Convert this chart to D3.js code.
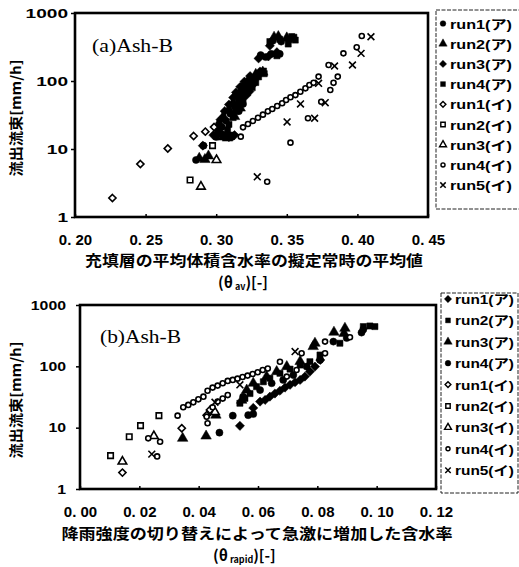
<!DOCTYPE html>
<html>
<head>
<meta charset="utf-8"/>
<script src="https://cdn.jsdelivr.net/npm/d3@7"></script>
<style>
  body { margin: 0; background: #fff; }
  svg text { fill: #000; }
</style>
</head>
<body>
<svg id="chart" width="519" height="567"></svg>
<script>
// ---- tick values / labels ----
var yTicks = [1, 10, 100, 1000];
var xTicksA = [0.20, 0.25, 0.30, 0.35, 0.40, 0.45];
var xTicksB = [0.00, 0.02, 0.04, 0.06, 0.08, 0.10, 0.12];

var legendNames = ["run1(ア)", "run2(ア)", "run3(ア)", "run4(ア)",
                   "run1(イ)", "run2(イ)", "run3(イ)", "run4(イ)", "run5(イ)"];

// ---- panel (a): theta_av vs outflow ----
var a_run1A = [[0.2857,6.9],[0.291,11.2],[0.300,15],[0.303,17],[0.306,16],[0.304,21],[0.307,26],[0.310,33],
  [0.313,42],[0.316,52],[0.318,64],[0.321,78],[0.324,95],[0.327,112],[0.330,128],[0.3315,240],[0.335,225],
  [0.339,250],[0.345,250],[0.340,390],[0.346,380],[0.316,36],[0.319,46],[0.311,15]];
var a_run2A = [[0.288,7.3],[0.2945,7.9],[0.292,7.0],[0.301,17],[0.305,15],[0.302,24],[0.305,30],[0.309,38],
  [0.312,48],[0.315,60],[0.318,75],[0.320,90],[0.323,105],[0.328,125],[0.333,135],[0.341,440],[0.344,450],
  [0.350,430],[0.317,40],[0.313,30],[0.308,14.5]];
var a_run3A = [[0.2905,11.2],[0.298,16],[0.309,15],[0.300,20],[0.303,27],[0.306,36],[0.309,45],[0.312,57],
  [0.314,68],[0.317,82],[0.320,98],[0.324,118],[0.331,138],[0.330,215],[0.337,230],[0.343,265],[0.338,330],
  [0.352,400],[0.3215,62],[0.3235,70],[0.326,88],[0.313,16]];
var a_run4A = [[0.311,16],[0.308,19],[0.309,23],[0.312,29],[0.314,36],[0.3165,44],[0.319,55],[0.321,66],
  [0.323,78],[0.325,92],[0.3275,110],[0.3335,140],[0.343,235],[0.338,380],[0.345,410],[0.351,350],[0.355,440],
  [0.356,400],[0.3535,450],[0.3255,80],[0.328,95],[0.330,115],[0.334,128],[0.305,15.5]];
var a_run1I = [[0.2265,1.9],[0.2463,6.0],[0.2657,10.2],[0.284,15.5],[0.2923,18],[0.2985,21]];
var a_run2I = [[0.2815,3.5],[0.2974,11.2]];
var a_run3I = [[0.2892,2.8],[0.3002,6.9]];
var a_run4I = [[0.3174,15.2],[0.319,20.8],[0.3225,23.3],[0.326,25.8],[0.3296,28.8],[0.3331,32],[0.3366,35.8],
  [0.3397,38.7],[0.3432,42.9],[0.3467,47],[0.3495,52.5],[0.3526,57.6],[0.3561,62],[0.3596,69.6],[0.3632,78],
  [0.366,87.3],[0.369,94],[0.3725,116],[0.3526,12.4],[0.3361,3.3],[0.365,28.3],[0.3744,49.6],[0.3808,73.8],
  [0.3831,94],[0.3861,116],[0.3796,172],[0.3901,255],[0.3995,313],[0.4031,459]];
var a_run5I = [[0.4096,448],[0.4026,255],[0.3965,172],[0.3838,166],[0.3725,92.5],[0.3772,48],[0.3597,46],
  [0.3697,28.3],[0.3502,25],[0.3291,3.9]];

// ---- panel (b): theta_rapid vs outflow ----
var b_run1A = [[0.0539,10.7],[0.0584,21],[0.0607,26.6],[0.0624,28.3],[0.064,32],[0.0657,36],[0.0674,40],
  [0.0691,45],[0.0708,50],[0.0725,55],[0.0742,60],[0.0758,68],[0.0775,82],[0.0792,99],[0.081,127]];
var b_run2A = [[0.0539,25],[0.0556,30],[0.0573,36],[0.0595,46.6],[0.0618,56],[0.064,64],[0.0674,77],
  [0.0708,90],[0.0742,105],[0.0775,119],[0.0809,153],[0.0876,238],[0.0955,445],[0.0977,455],[0.0994,445]];
var b_run3A = [[0.0346,6.7],[0.0425,7.3],[0.0458,16],[0.0545,28],[0.0562,41],[0.0584,53],[0.0629,68],
  [0.0663,82],[0.0697,99],[0.0742,120],[0.0786,210],[0.0792,238],[0.0856,360],[0.0893,417],[0.089,345]];
var b_run4A = [[0.047,8.3],[0.0515,15.7],[0.0567,16],[0.0584,16.7],[0.055,32],[0.0607,41],[0.0646,53],
  [0.0685,60],[0.0719,72],[0.0764,99],[0.0809,127],[0.0854,253],[0.0899,290],[0.0949,355],[0.0955,400]];
var b_run1I = [[0.0143,1.85],[0.0343,9.8],[0.0427,16],[0.0438,19.5]];
var b_run2I = [[0.0103,3.5],[0.0166,7.1],[0.0204,10.8],[0.0266,15.7]];
var b_run3I = [[0.0143,2.8],[0.0249,7.3],[0.0455,18]];
var b_run4I = [[0.023,6.7],[0.027,5.9],[0.026,3.4],[0.0329,15.7],[0.0348,21.5],[0.0365,23.5],[0.0382,25.9],
  [0.0399,29],[0.0416,32],[0.043,40],[0.0447,45],[0.0464,48.5],[0.0481,53],[0.0498,57.8],[0.0515,60],
  [0.0531,63],[0.0548,67],[0.0565,70.6],[0.0582,75],[0.0599,80],[0.0616,87],[0.0633,92],[0.0674,119],
  [0.0747,163],[0.0826,253],[0.091,298],[0.0427,15.1],[0.043,11.8],[0.0447,21.5],[0.0464,26.6],
  [0.0481,29.8],[0.0498,34],[0.0697,68],[0.073,87],[0.0826,163]];
var b_run5I = [[0.0242,3.7],[0.0455,26],[0.0539,50],[0.0725,174]];

// marker shapes per series (legend order)
var markersA = ["dot", "tri", "dia", "sq", "odia", "osq", "otri", "ocirc", "x"];
var markersB = ["dia", "sq", "tri", "dot", "odia", "osq", "otri", "ocirc", "x"];

var svg = d3.select("#chart");
var jp = "'Noto Sans CJK JP', 'Liberation Sans', sans-serif";
var num = "'Liberation Sans', Arial, sans-serif";

function markerPath(type) {
  switch (type) {
    case "dot":   return d3.symbol(d3.symbolCircle, 40)();
    case "tri":   return d3.symbol(d3.symbolTriangle, 48)();
    case "sq":    return d3.symbol(d3.symbolSquare, 38)();
    case "dia":   return "M0,-4.6L4.6,0L0,4.6L-4.6,0Z";
    case "odia":  return "M0,-3.6L3.6,0L0,3.6L-3.6,0Z";
    case "osq":   return d3.symbol(d3.symbolSquare, 30)();
    case "otri":  return d3.symbol(d3.symbolTriangle, 32)();
    case "ocirc": return d3.symbol(d3.symbolCircle, 20)();
    case "x":     return "M-3.4,-3.4L3.4,3.4M-3.4,3.4L3.4,-3.4";
  }
}
function isOpen(type) { return type.charAt(0) === "o" || type === "x"; }

function drawMarkers(g, data, type, x, y) {
  g.selectAll(null).data(data).enter().append("path")
    .attr("d", markerPath(type))
    .attr("transform", function(d) { return "translate(" + x(d[0]) + "," + y(d[1]) + ")"; })
    .attr("fill", isOpen(type) ? (type === "x" ? "none" : "#fff") : "#000")
    .attr("stroke", "#000")
    .attr("stroke-width", isOpen(type) ? 1.6 : 0.5);
}

function drawPanel(cfg) {
  var x = d3.scaleLinear().domain(cfg.xDomain).range([cfg.left, cfg.right]);
  var y = d3.scaleLog().domain([1, 1000]).range([cfg.bottom, cfg.top]);
  var g = svg.append("g");

  // x axis: small inside ticks
  var xa = g.append("g").attr("transform", "translate(0," + cfg.bottom + ")")
    .call(d3.axisBottom(x).tickValues(cfg.xTicks).tickSizeInner(-3).tickSizeOuter(0).tickPadding(17)
      .tickFormat(function(d) { return d.toFixed(2).replace(".", ". "); }));
  xa.select(".domain").remove();
  xa.selectAll("line").attr("stroke-width", 1.5);
  xa.selectAll("text").attr("font-family", num).attr("font-weight", "bold").attr("font-size", 15);

  var ya = g.append("g").attr("transform", "translate(" + cfg.left + ",0)")
    .call(d3.axisLeft(y).tickValues(yTicks).tickFormat(d3.format("d")).tickSize(4).tickPadding(cfg.yPad));
  ya.select(".domain").remove();
  ya.selectAll("line").attr("stroke-width", 1.5);
  ya.selectAll("text").attr("font-family", num).attr("font-weight", "bold").attr("font-size", 13)
    .attr("textLength", function(d) { return String(d).length * cfg.digitW; })
    .attr("lengthAdjust", "spacingAndGlyphs");

  // frame
  g.append("rect").attr("x", cfg.left).attr("y", cfg.top)
    .attr("width", cfg.right - cfg.left).attr("height", cfg.bottom - cfg.top)
    .attr("fill", "none").attr("stroke", "#000").attr("stroke-width", 2.6);

  // data: filled first, open on top
  cfg.series.forEach(function(s, i) {
    drawMarkers(g, s, cfg.markers[i], x, y);
  });

  // panel label
  g.append("text").attr("x", cfg.left + cfg.labelDx).attr("y", cfg.labelY)
    .attr("font-family", "'Liberation Serif', 'Times New Roman', serif").attr("font-size", 18)
    .attr("textLength", 81).attr("lengthAdjust", "spacingAndGlyphs")
    .text(cfg.label);

  // y title
  g.append("text")
    .attr("transform", "translate(" + 21 + "," + cfg.yTitleY + ") rotate(-90)")
    .attr("text-anchor", "middle").attr("font-family", jp).attr("font-weight", "bold").attr("font-size", 14)
    .attr("textLength", 117).attr("lengthAdjust", "spacingAndGlyphs")
    .text("流出流束[mm/h]");

  // x title (two lines)
  g.append("text").attr("x", cfg.xTitleX).attr("y", cfg.xTitleY)
    .attr("text-anchor", "middle").attr("font-family", jp).attr("font-weight", "bold").attr("font-size", 15)
    .attr("textLength", cfg.xTitleW).attr("lengthAdjust", "spacingAndGlyphs")
    .text(cfg.xTitle);
  var sub = g.append("text").attr("x", cfg.symX).attr("y", cfg.xTitleY + 22)
    .attr("font-family", jp).attr("font-weight", "bold").attr("font-size", 15);
  sub.append("tspan").text("(θ");
  sub.append("tspan").attr("font-size", 9).attr("dy", 2).attr("dx", 2).text(cfg.sym);
  sub.append("tspan").attr("dy", -2).text(")[-]");

  // legend
  var lg = g.append("g");
  lg.append("rect").attr("x", cfg.legX).attr("y", cfg.legTop)
    .attr("width", cfg.legW).attr("height", cfg.legH)
    .attr("fill", "#fff").attr("stroke", "#222").attr("stroke-width", 1).attr("stroke-dasharray", "4,1.5");
  legendNames.forEach(function(name, i) {
    var yy = cfg.legY0 + i * cfg.legStep;
    var t = cfg.markers[i];
    lg.append("path").attr("d", markerPath(t))
      .attr("transform", "translate(" + (cfg.legX + 7) + "," + yy + ") scale(0.8)")
      .attr("fill", isOpen(t) ? (t === "x" ? "none" : "#fff") : "#000")
      .attr("stroke", "#000").attr("stroke-width", isOpen(t) ? 1.8 : 0.5);
    lg.append("text").attr("x", cfg.legX + 14).attr("y", yy + 5)
      .attr("font-family", "'Liberation Sans', 'Noto Sans CJK JP', sans-serif")
      .attr("font-weight", "bold").attr("font-size", 13)
      .attr("textLength", cfg.legTextW).attr("lengthAdjust", "spacingAndGlyphs")
      .text(name);
  });
}

drawPanel({
  xDomain: [0.20, 0.45], xTicks: xTicksA,
  left: 75, right: 428, top: 13, bottom: 217,
  yPad: 3, digitW: 10.6,
  series: [a_run1A, a_run2A, a_run3A, a_run4A, a_run1I, a_run2I, a_run3I, a_run4I, a_run5I],
  markers: markersA,
  label: "(a)Ash-B", labelDx: 17, labelY: 52,
  yTitleY: 118,
  xTitle: "充填層の平均体積含水率の擬定常時の平均値", xTitleX: 254, xTitleY: 266, xTitleW: 338,
  symX: 218, sym: "av",
  legX: 436, legTop: 10, legW: 84, legH: 199, legY0: 23.5, legStep: 20.2, legTextW: 62
});

drawPanel({
  xDomain: [0, 0.12], xTicks: xTicksB,
  left: 80, right: 436, top: 305, bottom: 489,
  yPad: 10, digitW: 8.8,
  series: [b_run1A, b_run2A, b_run3A, b_run4A, b_run1I, b_run2I, b_run3I, b_run4I, b_run5I],
  markers: markersB,
  label: "(b)Ash-B", labelDx: 20, labelY: 343,
  yTitleY: 400,
  xTitle: "降雨強度の切り替えによって急激に増加した含水率", xTitleX: 257, xTitleY: 539, xTitleW: 391,
  symX: 213, sym: "rapid",
  legX: 441, legTop: 293, legW: 77, legH: 200, legY0: 299, legStep: 21.4, legTextW: 59
});
</script>
</body>
</html>
